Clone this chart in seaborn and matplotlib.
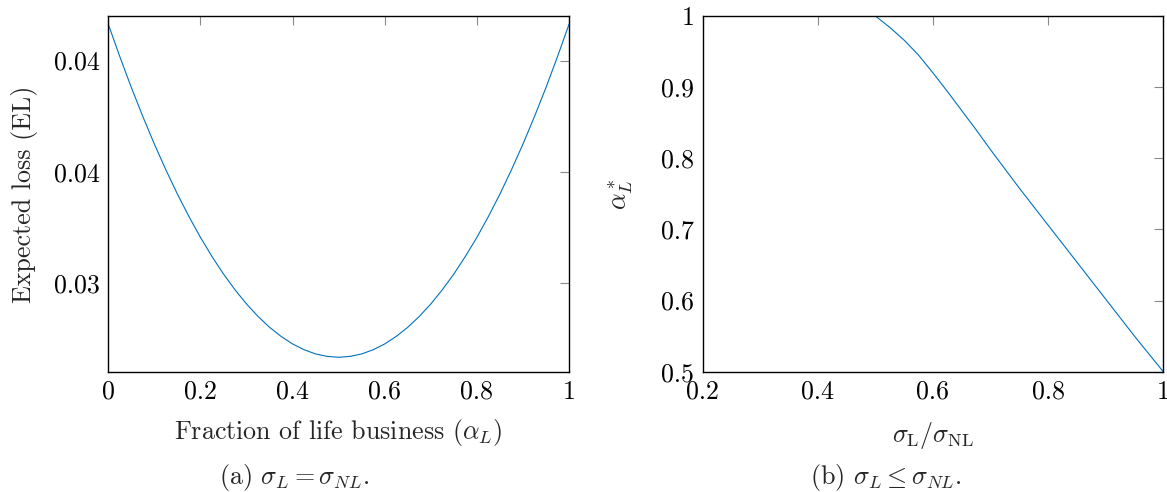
import numpy as np
import pandas as pd
import seaborn as sns
import matplotlib.pyplot as plt
from matplotlib.ticker import FuncFormatter, FormatStrFormatter

# (a) expected loss vs fraction of life business (read every 0.025)
alpha_l = [0.0, 0.025, 0.05, 0.075, 0.10, 0.125, 0.15, 0.175, 0.20, 0.225,
           0.25, 0.275, 0.30, 0.325, 0.35, 0.375, 0.40, 0.425, 0.45, 0.475,
           0.50, 0.525, 0.55, 0.575, 0.60, 0.625, 0.65, 0.675, 0.70, 0.725,
           0.75, 0.775, 0.80, 0.825, 0.85, 0.875, 0.90, 0.925, 0.95, 0.975, 1.0]
expected_loss = [0.04164, 0.04018, 0.03879, 0.03748, 0.03624, 0.03508, 0.03399,
                 0.03298, 0.03204, 0.03118, 0.03039, 0.02968, 0.02904, 0.02848,
                 0.02799, 0.02758, 0.02724, 0.02698, 0.02679, 0.02668, 0.02664,
                 0.02668, 0.02679, 0.02698, 0.02724, 0.02758, 0.02799, 0.02848,
                 0.02904, 0.02968, 0.03039, 0.03118, 0.03204, 0.03298, 0.03399,
                 0.03508, 0.03624, 0.03748, 0.03879, 0.04018, 0.04164]

# (b) optimal alpha vs sigma ratio
sigma_ratio = [0.20, 0.30, 0.40, 0.50, 0.525, 0.55, 0.575, 0.60, 0.625, 0.65,
               0.675, 0.70, 0.725, 0.75, 0.775, 0.80, 0.825, 0.85, 0.875,
               0.90, 0.925, 0.95, 0.975, 1.0]
alpha_opt = [1.0, 1.0, 1.0, 1.0, 0.984, 0.966, 0.945, 0.920, 0.894, 0.867,
             0.840, 0.812, 0.785, 0.758, 0.732, 0.706, 0.680, 0.654, 0.628,
             0.602, 0.576, 0.550, 0.525, 0.5]

el_ticks = [0.030, 0.035, 0.040]

df_a = pd.DataFrame({"alpha": alpha_l, "el": expected_loss})
df_b = pd.DataFrame({"ratio": sigma_ratio, "opt": alpha_opt})

sns.set_style("white")
plt.rcParams["font.family"] = "serif"
plt.rcParams["font.serif"] = ["cmr10"]
plt.rcParams["mathtext.fontset"] = "cm"
plt.rcParams["axes.unicode_minus"] = False
plt.rcParams["axes.formatter.use_mathtext"] = True

fs = 18.7
line_color = "#0072BD"
fig = plt.figure(figsize=(11.67, 4.92), dpi=100)
ax1 = fig.add_axes([0.0928, 0.2445, 0.3948, 0.7230])
ax2 = fig.add_axes([0.6021, 0.2445, 0.3947, 0.7230])

sns.lineplot(data=df_a, x="alpha", y="el", ax=ax1, color=line_color, linewidth=0.8)
sns.lineplot(data=df_b, x="ratio", y="opt", ax=ax2, color=line_color, linewidth=0.8)

g_fmt = FuncFormatter(lambda v, p: "%g" % round(v, 6))

ax1.set_xlim(0, 1)
ax1.set_ylim(0.02599, 0.04201)
ax1.set_xticks([0, 0.2, 0.4, 0.6, 0.8, 1.0])
ax1.set_yticks(el_ticks)
ax1.xaxis.set_major_formatter(g_fmt)
ax1.yaxis.set_major_formatter(FormatStrFormatter("%.2f"))
ax1.set_xlabel(r"Fraction of life business ($\alpha_L$)", fontsize=fs)
ax1.set_ylabel("Expected loss (EL)", fontsize=fs)
ax1.xaxis.set_label_coords(0.5, -0.128)
ax1.yaxis.set_label_coords(-0.152, 0.5)

ax2.set_xlim(0.2, 1.0)
ax2.set_ylim(0.5, 1.0)
ax2.set_xticks([0.2, 0.4, 0.6, 0.8, 1.0])
ax2.set_yticks([0.5, 0.6, 0.7, 0.8, 0.9, 1.0])
ax2.xaxis.set_major_formatter(g_fmt)
ax2.yaxis.set_major_formatter(g_fmt)
ax2.set_xlabel(r"$\sigma_{\mathrm{L}}/\sigma_{\mathrm{NL}}$", fontsize=fs)
ax2.set_ylabel(r"$\alpha_L^*$", fontsize=fs)
ax2.xaxis.set_label_coords(0.5, -0.135)
ax2.yaxis.set_label_coords(-0.147, 0.5)

for ax in (ax1, ax2):
    ax.tick_params(direction="in", top=True, right=True, length=6.8, width=0.8,
                   color="#8a8a8a", labelsize=fs, labelcolor="black", pad=6)
    for s in ax.spines.values():
        s.set_color("black")
        s.set_linewidth(1.0)
        s.set_visible(True)

fig.text(0.252, 0.03, r"(a) $\sigma_L = \sigma_{NL}$.", ha="center", va="center", fontsize=fs)
fig.text(0.759, 0.03, r"(b) $\sigma_L \leq \sigma_{NL}$.", ha="center", va="center", fontsize=fs)

plt.savefig("out.png", dpi=100)
